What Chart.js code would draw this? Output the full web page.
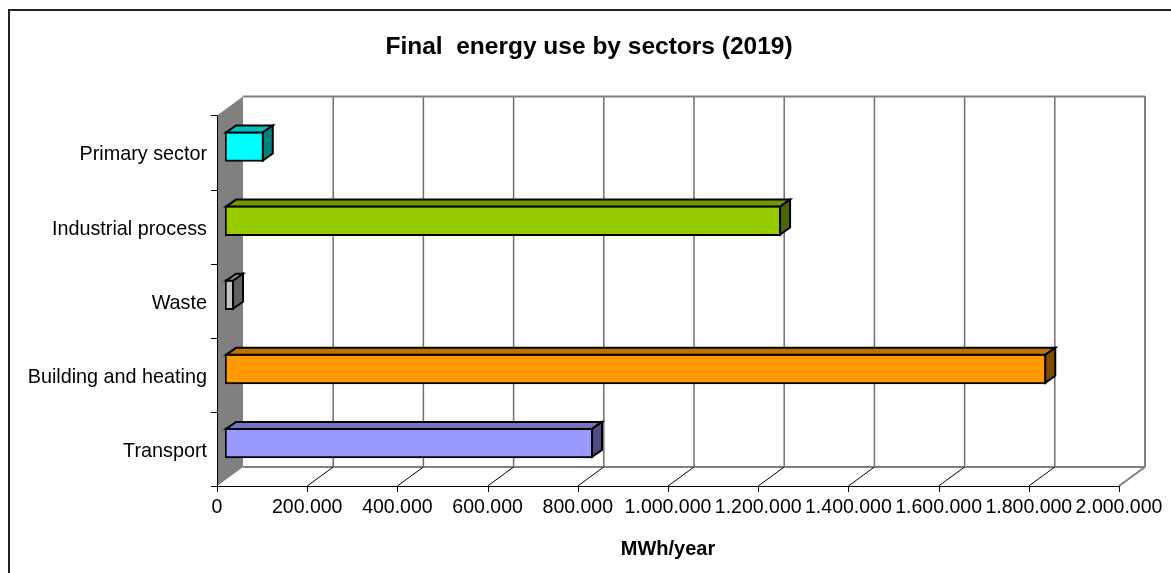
<!DOCTYPE html>
<html>
<head>
<meta charset="utf-8">
<title>Final energy use by sectors (2019)</title>
<script src="https://cdn.jsdelivr.net/npm/chart.js@4.4.1/dist/chart.umd.min.js"></script>
<style>
  html, body { margin: 0; padding: 0; background: #ffffff; }
  #wrap { width: 1171px; height: 573px; position: relative; }
</style>
</head>
<body>
<div id="wrap"><canvas id="c" width="1171" height="573"></canvas></div>
<script>
// Sectors, listed top to bottom
const sectors = ['Primary sector', 'Industrial process', 'Waste', 'Building and heating', 'Transport'];
// Final energy use per sector, MWh/year
const energyUse = [86000, 1233000, 20000, 1821000, 816000];
// Bar colours: front face, top face, side face
const faceColors = ['#00FFFF', '#99CC00', '#C0C0C0', '#FF9900', '#9999FF'];
const topColors  = ['#00BFBF', '#739900', '#909090', '#BF7300', '#7373BF'];
const sideColors = ['#008080', '#4D6600', '#606060', '#804D00', '#4D4D80'];
// Value axis tick labels (dot as thousands separator)
const xTickLabels = ['0', '200.000', '400.000', '600.000', '800.000', '1.000.000',
                     '1.200.000', '1.400.000', '1.600.000', '1.800.000', '2.000.000'];
const chartTitle = 'Final  energy use by sectors (2019)';
const axisTitle = 'MWh/year';

const FONT = "'Liberation Sans', Arial, Helvetica, sans-serif";

// Pseudo-3D offsets, relative to the plane the bar fronts are drawn in
const FRONT = { dx: -8, dy: 6 };     // front edge of the floor / axes
const BACK  = { dx: 18, dy: -13 };   // back wall
const BAR_DEPTH = { dx: 10, dy: -7 };

function line(ctx, x1, y1, x2, y2) {
  ctx.beginPath();
  ctx.moveTo(x1, y1);
  ctx.lineTo(x2, y2);
  ctx.stroke();
}

const depthPlugin = {
  id: 'depth3d',
  beforeDraw(chart) {
    const { ctx, width, height } = chart;
    ctx.save();
    ctx.fillStyle = '#ffffff';
    ctx.fillRect(0, 0, width, height);
    ctx.strokeStyle = '#222222';
    ctx.lineWidth = 2;
    ctx.strokeRect(9, 10, width + 20, height + 20);
    ctx.restore();
  },
  beforeDatasetsDraw(chart) {
    const { ctx, chartArea: a, scales: { x, y } } = chart;
    ctx.save();
    const fl = a.left + FRONT.dx, fr = a.right + FRONT.dx;
    const ft = a.top + FRONT.dy, fb = a.bottom + FRONT.dy;
    const bl = a.left + BACK.dx, br = a.right + BACK.dx;
    const bt = a.top + BACK.dy, bb = a.bottom + BACK.dy;

    // side wall at the zero line
    ctx.fillStyle = '#808080';
    ctx.beginPath();
    ctx.moveTo(fl, ft);
    ctx.lineTo(bl, bt);
    ctx.lineTo(bl, bb);
    ctx.lineTo(fl, fb);
    ctx.closePath();
    ctx.fill();

    // back wall gridlines
    ctx.strokeStyle = '#707070';
    ctx.lineWidth = 1.5;
    x.ticks.forEach(t => {
      const px = x.getPixelForValue(t.value) + BACK.dx;
      if (t.value > 0) line(ctx, px, bt, px, bb);
    });

    // back wall frame
    ctx.strokeStyle = '#808080';
    ctx.lineWidth = 2;
    line(ctx, bl, bt, br, bt);
    line(ctx, br, bt, br, bb);
    line(ctx, bl, bb, br, bb);
    line(ctx, br, bb, fr, fb);

    // floor diagonals at each tick
    ctx.strokeStyle = '#000000';
    ctx.lineWidth = 1;
    x.ticks.forEach(t => {
      const p = x.getPixelForValue(t.value);
      if (t.value > 0 && t.value < x.max) line(ctx, p + FRONT.dx, fb, p + BACK.dx, bb);
    });

    // front axes
    ctx.strokeStyle = '#000000';
    ctx.lineWidth = 1;
    line(ctx, fl, fb + 0.5, fr, fb + 0.5);
    line(ctx, fl + 0.5, ft, fl + 0.5, fb + 6);
    // value axis tick marks
    x.ticks.forEach(t => {
      const p = Math.round(x.getPixelForValue(t.value) + FRONT.dx) + 0.5;
      line(ctx, p, fb, p, fb + 6);
    });
    // category tick marks at band edges
    const n = y.ticks.length;
    for (let i = 0; i <= n; i++) {
      const py = Math.round(a.top + (a.bottom - a.top) * i / n + FRONT.dy) + 0.5;
      line(ctx, fl - 6, py, fl, py);
    }

    // value axis title
    ctx.fillStyle = '#000000';
    ctx.font = "bold 20px " + FONT;
    ctx.textAlign = 'center';
    ctx.textBaseline = 'middle';
    ctx.fillText(axisTitle, (fl + fr) / 2, 549);
    ctx.restore();
  },
  afterDatasetsDraw(chart) {
    const { ctx } = chart;
    const meta = chart.getDatasetMeta(0);
    ctx.save();
    ctx.strokeStyle = '#000000';
    ctx.lineWidth = 2;
    ctx.lineJoin = 'miter';
    meta.data.forEach((bar, i) => {
      const p = bar.getProps(['x', 'y', 'base', 'height'], true);
      const x0 = p.base + 1, x1 = p.x - 1;
      const yT = p.y - p.height / 2 + 1, yB = p.y + p.height / 2 - 1;
      const dx = BAR_DEPTH.dx, dy = BAR_DEPTH.dy;
      // top face
      ctx.fillStyle = topColors[i];
      ctx.beginPath();
      ctx.moveTo(x0, yT);
      ctx.lineTo(x0 + dx, yT + dy);
      ctx.lineTo(x1 + dx, yT + dy);
      ctx.lineTo(x1, yT);
      ctx.closePath();
      ctx.fill();
      ctx.stroke();
      // end face
      ctx.fillStyle = sideColors[i];
      ctx.beginPath();
      ctx.moveTo(x1, yT);
      ctx.lineTo(x1 + dx, yT + dy);
      ctx.lineTo(x1 + dx, yB + dy);
      ctx.lineTo(x1, yB);
      ctx.closePath();
      ctx.fill();
      ctx.stroke();
    });
    ctx.restore();
  }
};

Chart.defaults.font.family = FONT;
Chart.defaults.color = '#000000';

new Chart(document.getElementById('c'), {
  type: 'bar',
  data: {
    labels: sectors,
    datasets: [{
      data: energyUse,
      backgroundColor: faceColors,
      borderColor: '#000000',
      borderWidth: 2,
      borderSkipped: false,
      barThickness: 30
    }]
  },
  options: {
    indexAxis: 'y',
    responsive: false,
    devicePixelRatio: 1,
    animation: false,
    // negative right padding widens the title box; the plot's right margin comes from the x scale
    layout: { padding: { left: 0, right: -7, top: 0, bottom: 0 } },
    plugins: {
      legend: { display: false },
      tooltip: { enabled: false },
      title: {
        display: true,
        text: chartTitle,
        color: '#000000',
        font: { family: FONT, size: 24.5, weight: 'bold' },
        padding: { top: 33, bottom: 47 }
      }
    },
    scales: {
      x: {
        min: 0,
        max: 2000000,
        grid: { display: false, drawTicks: false },
        border: { display: false },
        ticks: {
          stepSize: 200000,
          autoSkip: false,
          maxRotation: 0,
          labelOffset: -8,
          padding: 15.5,
          color: '#000000',
          font: { family: FONT, size: 19.5 },
          callback: (v, i) => xTickLabels[i]
        },
        afterFit: s => { s.height = 93; s.paddingLeft = 0; s.paddingRight = 44; }
      },
      y: {
        grid: { display: false, drawTicks: false },
        border: { display: false },
        ticks: {
          autoSkip: false,
          labelOffset: 8.5,
          padding: 18,
          color: '#000000',
          font: { family: FONT, size: 19.8 }
        },
        afterFit: s => { s.width = 225; s.paddingTop = 0; s.paddingBottom = 0; }
      }
    }
  },
  plugins: [depthPlugin]
});
</script>
</body>
</html>
